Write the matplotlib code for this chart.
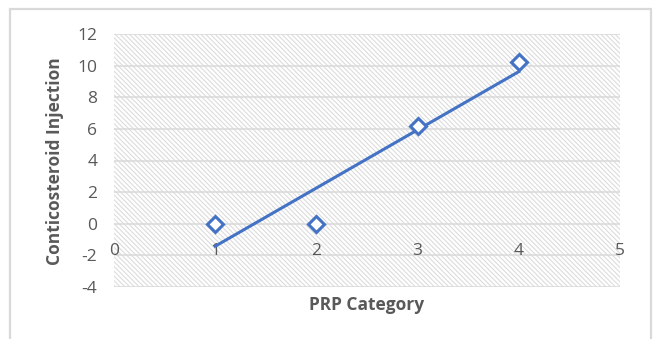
import matplotlib.pyplot as plt
import numpy as np
from matplotlib.patches import Rectangle

# PRP category vs. corticosteroid injection count
prp_category = [1, 2, 3, 4]
injection = [0, 0, 6.2, 10.2]
x_ticks = [0, 1, 2, 3, 4, 5]
y_ticks = [-4, -2, 0, 2, 4, 6, 8, 10, 12]

blue = "#4472C4"
grey_text = "#595959"
grid_col = "#d9d9d9"

plt.rcParams["font.family"] = ["Open Sans", "DejaVu Sans"]
plt.rcParams["hatch.color"] = "#dcdcdc"
plt.rcParams["hatch.linewidth"] = 0.8

fig = plt.figure(figsize=(6.54, 3.39), dpi=100)

# light chart border
fig.patches.append(Rectangle((10 / 654, -0.1), 641 / 654, 1.1 - 9 / 339,
                             transform=fig.transFigure, fill=False,
                             edgecolor=grid_col, linewidth=1.6))

ax = fig.add_axes([114 / 654, 52 / 339, 506 / 654, 253 / 339])
ax.set_xlim(0, 5)
ax.set_ylim(-4, 12)

# hatched plot area
ax.add_patch(Rectangle((0, -4), 5, 16, facecolor="white", hatch="\\" * 7,
                       edgecolor="#dcdcdc", linewidth=0, zorder=0))

for y in y_ticks:
    ax.axhline(y, color=grid_col, linewidth=1.1, zorder=1)

for s in ax.spines.values():
    s.set_visible(False)

ax.set_yticks(y_ticks)
ax.set_yticklabels([str(y) for y in y_ticks])
ax.tick_params(axis="y", length=0, pad=12, labelsize=12.5, labelcolor=grey_text)
ax.set_xticks([])

# x labels sit below the zero line
for x in x_ticks:
    ax.annotate(str(x), (x, 0), xytext=(0, -14), textcoords="offset points",
                ha="center", va="top", fontsize=12.5, color=grey_text)

# linear trendline
slope, intercept = np.polyfit(prp_category, injection, 1)
xs = np.array([min(prp_category), max(prp_category)])
ax.plot(xs, slope * xs + intercept, color=blue, linewidth=2.2, zorder=3)

ax.plot(prp_category, injection, linestyle="none", marker="D", markersize=8,
        markerfacecolor="white", markeredgecolor=blue, markeredgewidth=2.2,
        zorder=4, clip_on=False)

fig.text(367 / 654, 1 - 305 / 339, "PRP Category", ha="center", va="center",
         fontsize=12.5, fontweight="bold", color=grey_text)
fig.text(55 / 654, 1 - 161 / 339, "Conticosteroid Injection", ha="center",
         va="center", rotation=90, fontsize=12.5, fontweight="bold", color=grey_text)

fig.savefig("out.png", dpi=100)
